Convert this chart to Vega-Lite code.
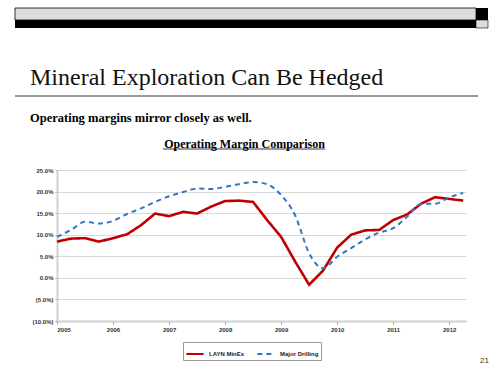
{
  "$schema": "https://vega.github.io/schema/vega-lite/v6.json",
  "width": 409,
  "height": 151,
  "autosize": {"type": "none"},
  "padding": {"left": 57, "top": 170, "right": 32, "bottom": 53},
  "background": "white",
  "config": {
    "view": {"stroke": null},
    "font": "Liberation Sans"
  },
  "title": {
    "text": "Mineral Exploration Can Be Hedged",
    "subtitle": "Operating margins mirror closely as well.",
    "anchor": "start",
    "frame": "group",
    "font": "Liberation Serif",
    "fontSize": 24,
    "fontWeight": "normal",
    "color": "#111",
    "subtitleFont": "Liberation Serif",
    "subtitleFontSize": 12.5,
    "subtitleFontWeight": "bold",
    "subtitleColor": "#000",
    "subtitlePadding": 22,
    "dx": -27,
    "offset": 0,
    "dy": 117
  },
  "data": {
    "values": [
      {"t": 2005.0, "series": "LAYN MinEx", "v": 8.4},
      {"t": 2005.25, "series": "LAYN MinEx", "v": 9.1},
      {"t": 2005.5, "series": "LAYN MinEx", "v": 9.2},
      {"t": 2005.75, "series": "LAYN MinEx", "v": 8.4},
      {"t": 2006.0, "series": "LAYN MinEx", "v": 9.2},
      {"t": 2006.25, "series": "LAYN MinEx", "v": 10.1},
      {"t": 2006.5, "series": "LAYN MinEx", "v": 12.2},
      {"t": 2006.75, "series": "LAYN MinEx", "v": 14.9},
      {"t": 2007.0, "series": "LAYN MinEx", "v": 14.3},
      {"t": 2007.25, "series": "LAYN MinEx", "v": 15.3},
      {"t": 2007.5, "series": "LAYN MinEx", "v": 14.9},
      {"t": 2007.75, "series": "LAYN MinEx", "v": 16.5},
      {"t": 2008.0, "series": "LAYN MinEx", "v": 17.8},
      {"t": 2008.25, "series": "LAYN MinEx", "v": 17.9},
      {"t": 2008.5, "series": "LAYN MinEx", "v": 17.6},
      {"t": 2008.75, "series": "LAYN MinEx", "v": 13.4},
      {"t": 2009.0, "series": "LAYN MinEx", "v": 9.5},
      {"t": 2009.25, "series": "LAYN MinEx", "v": 3.8},
      {"t": 2009.5, "series": "LAYN MinEx", "v": -1.6},
      {"t": 2009.75, "series": "LAYN MinEx", "v": 1.7},
      {"t": 2010.0, "series": "LAYN MinEx", "v": 7.0},
      {"t": 2010.25, "series": "LAYN MinEx", "v": 10.0},
      {"t": 2010.5, "series": "LAYN MinEx", "v": 11.0},
      {"t": 2010.75, "series": "LAYN MinEx", "v": 11.1},
      {"t": 2011.0, "series": "LAYN MinEx", "v": 13.4},
      {"t": 2011.25, "series": "LAYN MinEx", "v": 14.7},
      {"t": 2011.5, "series": "LAYN MinEx", "v": 17.2},
      {"t": 2011.75, "series": "LAYN MinEx", "v": 18.7},
      {"t": 2012.0, "series": "LAYN MinEx", "v": 18.3},
      {"t": 2012.25, "series": "LAYN MinEx", "v": 17.9},
      {"t": 2005.0, "series": "Major Drilling", "v": 9.5},
      {"t": 2005.25, "series": "Major Drilling", "v": 11.1},
      {"t": 2005.5, "series": "Major Drilling", "v": 13.0},
      {"t": 2005.75, "series": "Major Drilling", "v": 12.6},
      {"t": 2006.0, "series": "Major Drilling", "v": 13.2},
      {"t": 2006.25, "series": "Major Drilling", "v": 14.8},
      {"t": 2006.5, "series": "Major Drilling", "v": 16.1},
      {"t": 2006.75, "series": "Major Drilling", "v": 17.6},
      {"t": 2007.0, "series": "Major Drilling", "v": 18.9},
      {"t": 2007.25, "series": "Major Drilling", "v": 19.9},
      {"t": 2007.5, "series": "Major Drilling", "v": 20.7},
      {"t": 2007.75, "series": "Major Drilling", "v": 20.6},
      {"t": 2008.0, "series": "Major Drilling", "v": 21.1},
      {"t": 2008.25, "series": "Major Drilling", "v": 21.7},
      {"t": 2008.5, "series": "Major Drilling", "v": 22.2},
      {"t": 2008.75, "series": "Major Drilling", "v": 21.7},
      {"t": 2009.0, "series": "Major Drilling", "v": 19.2},
      {"t": 2009.25, "series": "Major Drilling", "v": 14.5},
      {"t": 2009.5, "series": "Major Drilling", "v": 5.7},
      {"t": 2009.75, "series": "Major Drilling", "v": 2.2},
      {"t": 2010.0, "series": "Major Drilling", "v": 4.9},
      {"t": 2010.25, "series": "Major Drilling", "v": 6.9},
      {"t": 2010.5, "series": "Major Drilling", "v": 8.9},
      {"t": 2010.75, "series": "Major Drilling", "v": 10.5},
      {"t": 2011.0, "series": "Major Drilling", "v": 11.5},
      {"t": 2011.25, "series": "Major Drilling", "v": 14.2},
      {"t": 2011.5, "series": "Major Drilling", "v": 17.1},
      {"t": 2011.75, "series": "Major Drilling", "v": 17.2},
      {"t": 2012.0, "series": "Major Drilling", "v": 18.6},
      {"t": 2012.25, "series": "Major Drilling", "v": 19.7}
    ]
  },
  "encoding": {
    "x": {
      "field": "t",
      "type": "quantitative",
      "scale": {"domain": [2005, 2012.3], "nice": false, "zero": false},
      "axis": {
        "values": [2005, 2006, 2007, 2008, 2009, 2010, 2011, 2012],
        "format": "d",
        "grid": false,
        "domainColor": "#d0d0d0",
        "domainWidth": 2,
        "tickColor": "#999",
        "tickSize": 3,
        "labelFont": "Liberation Sans",
        "labelFontSize": 6,
        "labelFontWeight": "bold",
        "labelColor": "#333",
        "labelPadding": 2,
        "title": "21",
        "titleFont": "Liberation Sans",
        "titleFontSize": 8,
        "titleFontWeight": "normal",
        "titleColor": "#333",
        "titleAngle": 0,
        "titleAnchor": null,
        "titleX": 427,
        "titleY": 41,
        "titleAlign": "center",
        "titleBaseline": "alphabetic"
      }
    },
    "y": {
      "field": "v",
      "type": "quantitative",
      "scale": {"domain": [-10, 25], "nice": false},
      "axis": {
        "values": [-10, -5, 0, 5, 10, 15, 20, 25],
        "labelExpr": "datum.value < 0 ? '(' + format(-datum.value, '.1f') + '%)' : format(datum.value, '.1f') + '%'",
        "grid": true,
        "gridColor": "#d9d9d9",
        "gridWidth": 1,
        "domainColor": "#d0d0d0",
        "domainWidth": 2,
        "ticks": true,
        "tickColor": "#999",
        "tickSize": 2,
        "labelFont": "Liberation Sans",
        "labelFontSize": 6,
        "labelFontWeight": "bold",
        "labelColor": "#333",
        "labelPadding": 2,
        "title": "Operating Margin Comparison",
        "titleFont": "Liberation Serif",
        "titleFontSize": 12,
        "titleFontWeight": "bold",
        "titleColor": "#000",
        "titleAngle": 0,
        "titleX": 187,
        "titleY": -23,
        "titleAlign": "center",
        "titleBaseline": "alphabetic"
      }
    },
    "color": {
      "field": "series",
      "type": "nominal",
      "scale": {"domain": ["LAYN MinEx", "Major Drilling"], "range": ["#C00000", "#2E78C2"]},
      "legend": {
        "title": null,
        "orient": "none",
        "legendX": 126,
        "legendY": 172,
        "direction": "horizontal",
        "strokeColor": "#999",
        "padding": 2,
        "symbolType": "stroke",
        "symbolSize": 300,
        "symbolStrokeWidth": 2,
        "labelFont": "Liberation Sans",
        "labelFontSize": 6,
        "labelFontWeight": "bold",
        "labelColor": "#222",
        "columnPadding": 8,
        "labelLimit": 100
      }
    },
    "strokeDash": {
      "field": "series",
      "type": "nominal",
      "scale": {"domain": ["LAYN MinEx", "Major Drilling"], "range": [[1, 0], [5, 4]]},
      "legend": null
    }
  },
  "layer": [
    {
      "transform": [{"filter": "datum.series === 'LAYN MinEx'"}],
      "mark": {"type": "line", "strokeWidth": 2.6, "interpolate": "linear"}
    },
    {
      "transform": [{"filter": "datum.series === 'Major Drilling'"}],
      "mark": {"type": "line", "strokeWidth": 2, "interpolate": "monotone"}
    },
    {
      "data": {"values": [{}]},
      "mark": {"type": "rect", "fill": "#dddddd", "stroke": "#000", "strokeWidth": 0.8},
      "encoding": {"x": {"value": -42}, "x2": {"value": 419}, "y": {"value": -162}, "y2": {"value": -150}, "color": null, "strokeDash": null}
    },
    {
      "data": {"values": [{}]},
      "mark": {"type": "rect", "fill": "#000"},
      "encoding": {"x": {"value": -42}, "x2": {"value": 419}, "y": {"value": -150}, "y2": {"value": -142}, "color": null, "strokeDash": null}
    },
    {
      "data": {"values": [{}]},
      "mark": {"type": "rect", "fill": "#000"},
      "encoding": {"x": {"value": 419}, "x2": {"value": 431}, "y": {"value": -162}, "y2": {"value": -150}, "color": null, "strokeDash": null}
    },
    {
      "data": {"values": [{}]},
      "mark": {"type": "rect", "fill": "#dddddd", "stroke": "#000", "strokeWidth": 0.6},
      "encoding": {"x": {"value": 419}, "x2": {"value": 431}, "y": {"value": -150}, "y2": {"value": -142}, "color": null, "strokeDash": null}
    },
    {
      "data": {"values": [{}]},
      "mark": {"type": "rule", "stroke": "#000", "strokeWidth": 0.8},
      "encoding": {"x": {"value": -42}, "x2": {"value": 421}, "y": {"value": -74}, "color": null, "strokeDash": null}
    },
    {
      "data": {"values": [{}]},
      "mark": {"type": "rule", "stroke": "#000", "strokeWidth": 0.8},
      "encoding": {"x": {"value": 106}, "x2": {"value": 268}, "y": {"value": -21}, "color": null, "strokeDash": null}
    }
  ]
}
